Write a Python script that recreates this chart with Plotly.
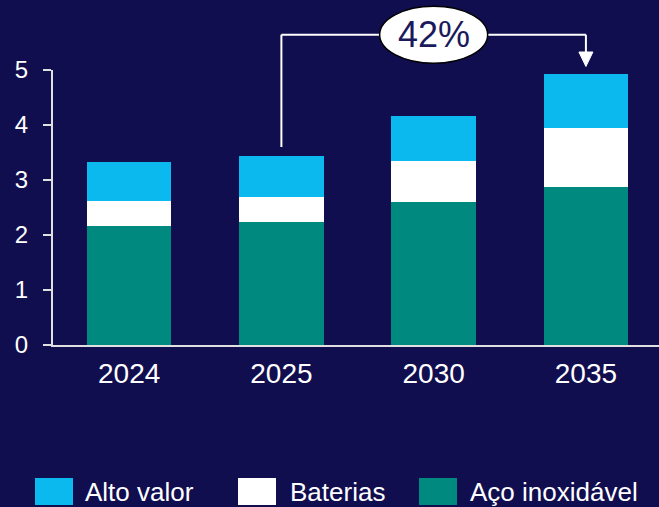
import plotly.graph_objects as go

# Stacked volumes by year (segments bottom to top)
years = ["2024", "2025", "2030", "2035"]
aco_inox = [2.17, 2.23, 2.60, 2.87]
baterias = [0.45, 0.47, 0.75, 1.07]
alto_valor = [0.71, 0.74, 0.82, 0.99]
series_names = ["Alto valor", "Baterias", "Aço inoxidável"]
growth_label = "42%"
y_ticks = [0, 1, 2, 3, 4, 5]

BG = "#110e4f"
C_BLUE = "#0bb9ef"
C_WHITE = "#ffffff"
C_TEAL = "#00897e"
FONT = "Liberation Sans, Arial, sans-serif"

W, H = 659, 507
M_L, M_R, M_T, M_B = 53, 0, 70, 162
X_RANGE = [-0.5, 3.48]
Y_MAX = 5

fig = go.Figure()
for name, vals, col in [
    (series_names[2], aco_inox, C_TEAL),
    (series_names[1], baterias, C_WHITE),
    (series_names[0], alto_valor, C_BLUE),
]:
    fig.add_trace(go.Bar(x=years, y=vals, name=name, marker=dict(color=col, line=dict(width=0)),
                         showlegend=False))

plot_w = W - M_L - M_R
plot_h = H - M_T - M_B


def px_x(px):
    return (px - M_L) / plot_w


def px_y(py):
    return (H - M_B - py) / plot_h


def cat_x(i):
    return (i - X_RANGE[0]) / (X_RANGE[1] - X_RANGE[0])


totals = [a + b + c for a, b, c in zip(aco_inox, baterias, alto_valor)]
i_from, i_to = 1, 3
x_from, x_to = cat_x(i_from), cat_x(i_to)
y_low = (totals[i_from] + 0.16) / Y_MAX
y_top = px_y(34.7)
y_arrow_base = px_y(52)
y_arrow_tip = px_y(66.5)

line_style = dict(color="white", width=2)
shapes = [
    dict(type="line", xref="paper", yref="paper", x0=x_from, x1=x_from, y0=y_low, y1=y_top, line=line_style),
    dict(type="line", xref="paper", yref="paper", x0=x_from, x1=x_to, y0=y_top, y1=y_top, line=line_style),
    dict(type="line", xref="paper", yref="paper", x0=x_to, x1=x_to, y0=y_top, y1=y_arrow_base, line=line_style),
]
hw = 7 / plot_w
shapes.append(dict(
    type="path", xref="paper", yref="paper",
    path=f"M {x_to - hw},{y_arrow_base} L {x_to + hw},{y_arrow_base} L {x_to},{y_arrow_tip} Z",
    fillcolor="white", line=dict(color="white", width=1),
))
# Ellipse holding the growth figure
x_mid = cat_x((i_from + i_to) / 2)
rx, ry = 54 / plot_w, 28.5 / plot_h
shapes.append(dict(
    type="circle", xref="paper", yref="paper",
    x0=x_mid - rx, x1=x_mid + rx, y0=y_top - ry, y1=y_top + ry,
    fillcolor="white", line=dict(color="black", width=1.5),
))

annotations = [dict(
    xref="paper", yref="paper", x=x_mid, y=y_top, text=growth_label, showarrow=False,
    xanchor="center", yanchor="middle", font=dict(family=FONT, size=36, color="#1b1a5c"),
)]

# Legend row drawn with swatches and labels
legend_items = [
    (series_names[0], C_BLUE, 35, 83),
    (series_names[1], C_WHITE, 238, 288),
    (series_names[2], C_TEAL, 419, 468),
]
sw_top, sw_bot = 478, 505
for label, col, sx, tx in legend_items:
    shapes.append(dict(
        type="rect", xref="paper", yref="paper",
        x0=px_x(sx), x1=px_x(sx + 38), y0=px_y(sw_bot), y1=px_y(sw_top),
        fillcolor=col, line=dict(width=0),
    ))
    annotations.append(dict(
        xref="paper", yref="paper", x=px_x(tx), y=px_y((sw_top + sw_bot) / 2), text=label,
        showarrow=False, xanchor="left", yanchor="middle",
        font=dict(family=FONT, size=26, color="white"),
    ))

fig.update_layout(
    width=W, height=H,
    margin=dict(l=M_L, r=M_R, t=M_T, b=M_B),
    paper_bgcolor=BG, plot_bgcolor=BG,
    barmode="stack", bargap=0.445,
    font=dict(family=FONT, color="white"),
    shapes=shapes, annotations=annotations,
    xaxis=dict(
        range=X_RANGE, showgrid=False, zeroline=False,
        showline=True, linecolor="#e0e0e0", linewidth=2,
        ticks="", tickfont=dict(size=28, color="white"), ticklabelstandoff=2,
    ),
    yaxis=dict(
        range=[0, Y_MAX], tickvals=y_ticks, showgrid=False, zeroline=False,
        showline=True, linecolor="#e0e0e0", linewidth=2,
        ticks="outside", ticklen=8, tickwidth=2, tickcolor="#e0e0e0",
        tickfont=dict(size=24, color="white"), ticklabelstandoff=10,
    ),
)

fig.write_html("out.html")
